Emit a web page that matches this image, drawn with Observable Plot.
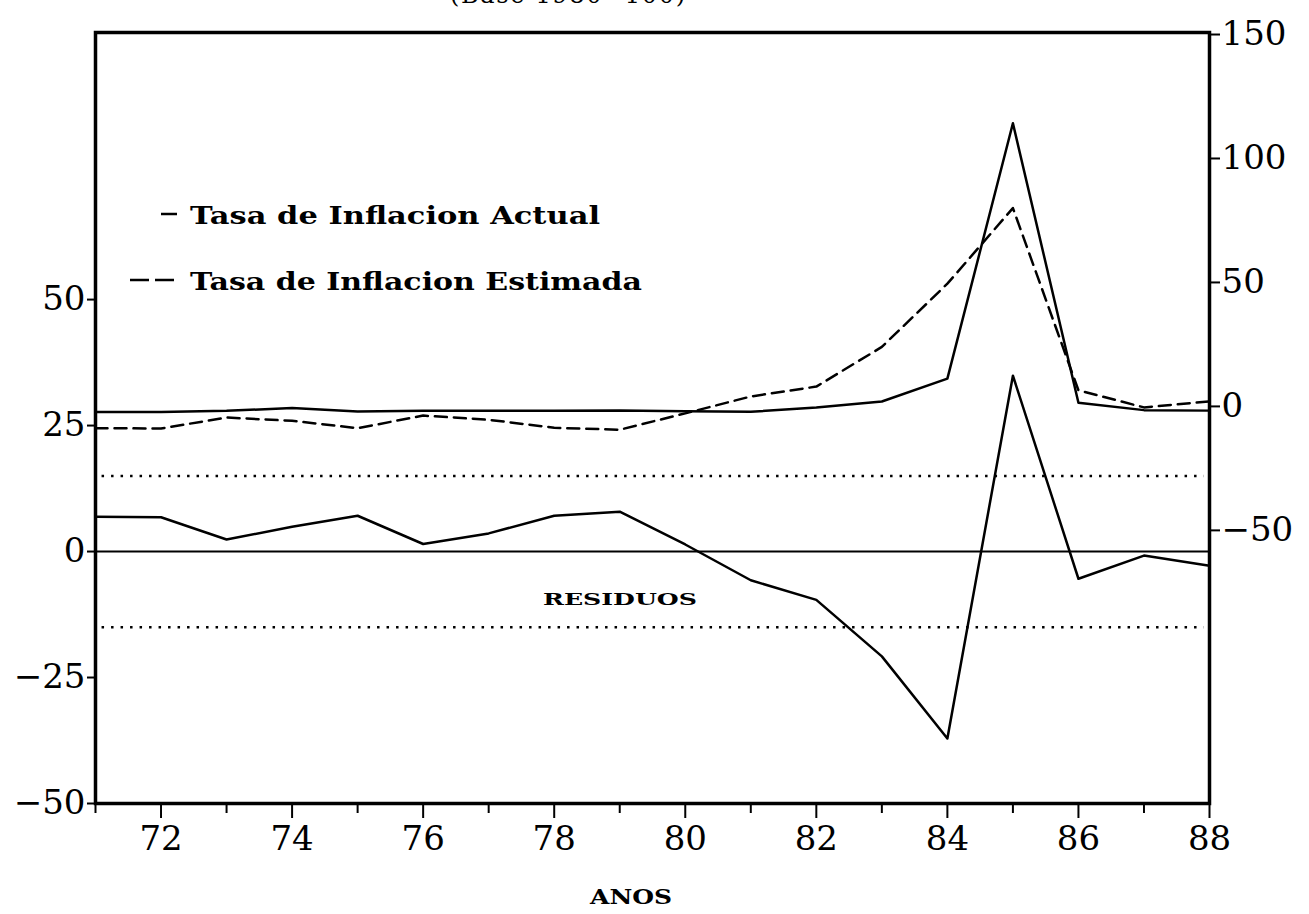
<!DOCTYPE html>
<html><head><meta charset="utf-8">
<script src="https://cdn.jsdelivr.net/npm/d3@7"></script>
<script src="https://cdn.jsdelivr.net/npm/@observablehq/plot@0.6"></script>
<style>
html,body{margin:0;padding:0;background:#fff;}
#chart{width:1309px;height:914px;overflow:hidden;}
</style></head><body><div id="chart"></div>
<script>
// ---- data ----
const years    = [71,72,73,74,75,76,77,78,79,80,81,82,83,84,85,86,87,88];
const actual   = [-2.3,-2.3,-1.8,-0.6,-2.1,-1.8,-1.7,-1.8,-1.6,-2.0,-2.2,-0.4,2.0,11.2,114.2,1.5,-1.5,-1.7];
const fitted   = [-8.8,-8.9,-4.5,-5.8,-8.8,-3.7,-5.4,-8.6,-9.4,-2.8,4.0,8.0,24.0,49.5,80.0,6.5,-0.4,2.0];
const residual = [6.9,6.8,2.4,4.9,7.1,1.5,3.6,7.1,7.9,1.4,-5.7,-9.6,-20.8,-37.1,34.9,-5.4,-0.8,-2.8];
const leftTicks  = [-50,-25,0,25,50];
const rightTicks = [-50,0,50,100,150];
const majorYears = [72,74,76,78,80,82,84,86,88];
const minorYears = [71,73,75,77,79,81,83,85,87];
const bandLevels = [-15,15];
const legendLabels = ["Tasa de Inflacion Actual","Tasa de Inflacion Estimada"];
const residLabel = "RESIDUOS";
const xLabel = "ANOS";
const topNote = "(Base 1980=100)";

// right axis (actual / fitted) expressed in left-axis units
const R0 = 28.8, RK = 0.492;
const toLeft = r => R0 + RK * r;
const fmt = n => (n < 0 ? "\u2212" + Math.abs(n) : String(n));

const rows = years.map((y, i) => ({
  year: y, actual: toLeft(actual[i]), fitted: toLeft(fitted[i]), residual: residual[i]
}));

const FONT = "DejaVu Serif";
const chart = Plot.plot({
  width: 1309, height: 914,
  marginLeft: 95, marginRight: 100, marginTop: 32, marginBottom: 111,
  style: {background: "#fff", color: "#000", fontFamily: FONT},
  x: {domain: [71, 88]},
  y: {domain: [-50, 103]},
  marks: [
    Plot.ruleY([0], {stroke: "#000", strokeWidth: 2}),
    Plot.ruleY(bandLevels, {x1: 71.1, x2: 87.92, stroke: "#000", strokeWidth: 2.5, strokeDasharray: "2.5,7"}),
    Plot.line(rows, {x: "year", y: "residual", stroke: "#000", strokeWidth: 2.5}),
    Plot.line(rows, {x: "year", y: "fitted", stroke: "#000", strokeWidth: 2.5, strokeDasharray: "12,7"}),
    Plot.line(rows, {x: "year", y: "actual", stroke: "#000", strokeWidth: 2.5}),
    Plot.axisY(leftTicks, {anchor: "left", tickSize: 8, tickPadding: 2, fontSize: 34, strokeWidth: 2, label: null, tickFormat: fmt}),
    Plot.axisY(rightTicks.map(toLeft), {anchor: "right", tickSize: 10, tickPadding: 2, fontSize: 34, strokeWidth: 2, label: null,
      tickFormat: d => fmt(Math.round((d - R0) / RK))}),
    Plot.axisX(majorYears, {anchor: "bottom", tickSize: 15, tickPadding: 7, fontSize: 34, strokeWidth: 2, label: null, tickFormat: d => String(d)}),
    Plot.axisX(minorYears, {anchor: "bottom", tickSize: 10, strokeWidth: 2, label: null, tickFormat: () => ""}),
    Plot.frame({stroke: "#000", strokeWidth: 3.5})
  ]
});
document.getElementById("chart").appendChild(chart);

// ---- annotations ----
const svg = d3.select(chart);
const g = svg.append("g").attr("font-family", FONT).attr("fill", "#000").attr("text-anchor", "start");
// legend samples
g.append("line").attr("x1", 161).attr("x2", 177).attr("y1", 214).attr("y2", 214)
  .attr("stroke", "#000").attr("stroke-width", 2.5);
g.append("line").attr("x1", 130).attr("x2", 174).attr("y1", 280).attr("y2", 280)
  .attr("stroke", "#000").attr("stroke-width", 2.5).attr("stroke-dasharray", "19,6");
g.append("text").attr("x", 190).attr("y", 224).attr("font-size", 25).attr("font-weight", "bold")
  .attr("textLength", 410).attr("lengthAdjust", "spacingAndGlyphs").text(legendLabels[0]);
g.append("text").attr("x", 190).attr("y", 290).attr("font-size", 25).attr("font-weight", "bold")
  .attr("textLength", 452).attr("lengthAdjust", "spacingAndGlyphs").text(legendLabels[1]);
g.append("text").attr("x", 543).attr("y", 605).attr("font-size", 16).attr("font-weight", "bold")
  .attr("textLength", 154).attr("lengthAdjust", "spacingAndGlyphs").text(residLabel);
g.append("text").attr("x", 590).attr("y", 904).attr("font-size", 21).attr("font-weight", "bold")
  .attr("textLength", 82).attr("lengthAdjust", "spacingAndGlyphs").text(xLabel);
g.append("text").attr("x", 450).attr("y", 3).attr("font-size", 24)
  .attr("textLength", 235).attr("lengthAdjust", "spacing").text(topNote);
</script></body></html>
